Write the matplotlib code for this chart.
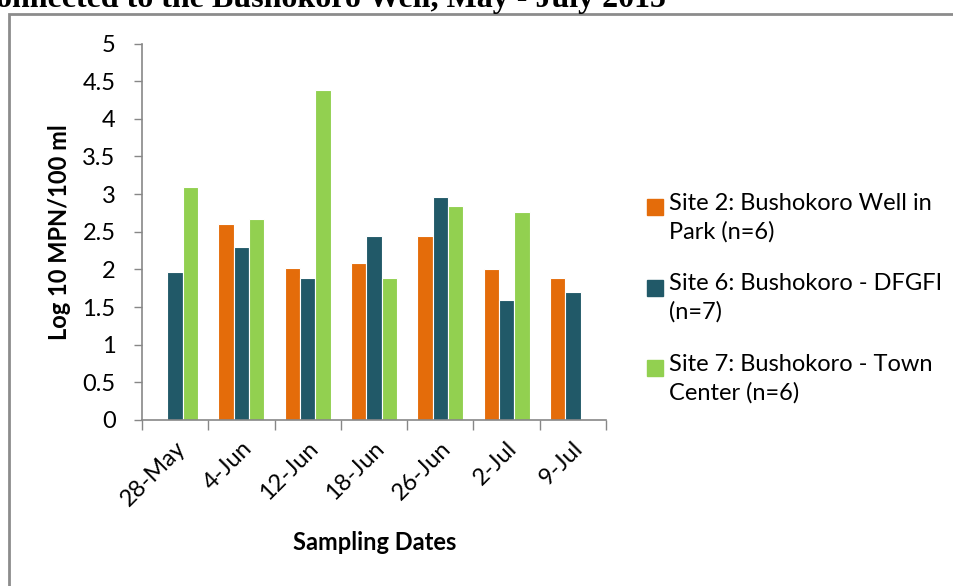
import numpy as np
import matplotlib
matplotlib.use("Agg")
import matplotlib.pyplot as plt
import matplotlib.transforms as mtransforms
from matplotlib.patches import Rectangle

DATES = ["28-May", "4-Jun", "12-Jun", "18-Jun", "26-Jun", "2-Jul", "9-Jul"]
SITE2 = [np.nan, 2.60, 2.02, 2.09, 2.44, 2.01, 1.89]
SITE6 = [1.96, 2.30, 1.89, 2.44, 2.96, 1.60, 1.70]
SITE7 = [3.10, 2.67, 4.38, 1.89, 2.84, 2.76, np.nan]
SERIES = [SITE2, SITE6, SITE7]
NAMES = ["Site 2: Bushokoro Well in\nPark (n=6)",
         "Site 6: Bushokoro - DFGFI\n(n=7)",
         "Site 7: Bushokoro - Town\nCenter (n=6)"]
COLORS = ["#E46C0A", "#215968", "#92D050"]
YTICKS = [0, 0.5, 1, 1.5, 2, 2.5, 3, 3.5, 4, 4.5, 5]

FONT = "Lato"
FS = 17
W, H = 954, 586

fig = plt.figure(figsize=(W / 100, H / 100), dpi=100)
ax = fig.add_axes([142 / W, 1 - 420 / H, (606 - 142) / W, (420 - 43.5) / H])

# grouped bars
x = np.arange(len(DATES))
bw = 0.232
for k, (vals, col) in enumerate(zip(SERIES, COLORS)):
    ax.bar(x + (k - 1) * bw, vals, bw, color=col, edgecolor="white", linewidth=0.8)

ax.set_xlim(-0.5, len(DATES) - 0.5)
ax.set_ylim(0, 5)
ax.set_yticks(YTICKS)
ax.set_yticklabels([f"{t:g}" for t in YTICKS], fontsize=FS, family=FONT)
ax.tick_params(axis="y", length=6, width=1, color="#878787", pad=13)

# labels at centres, ticks at the category boundaries
ax.set_xticks(x)
ax.set_xticklabels(DATES, rotation=45, ha="right", va="center",
                   rotation_mode="anchor", fontsize=FS, family=FONT)
ax.tick_params(axis="x", which="major", length=0, pad=18)
shift = mtransforms.ScaledTranslation(7 / 100, 0, fig.dpi_scale_trans)
for lab in ax.get_xticklabels():
    lab.set_transform(lab.get_transform() + shift)
ax.set_xticks(np.arange(len(DATES) + 1) - 0.5, minor=True)
ax.tick_params(axis="x", which="minor", length=7, width=1, color="#878787")

for s in ["top", "right"]:
    ax.spines[s].set_visible(False)
for s in ["left", "bottom"]:
    ax.spines[s].set_color("#878787")
    ax.spines[s].set_linewidth(1.2)

ax.set_ylabel("Log 10 MPN/100 ml", fontsize=FS, fontweight="bold", family=FONT, labelpad=8)
fig.text(375 / W, 1 - 543 / H, "Sampling Dates", fontsize=FS, fontweight="bold",
         family=FONT, ha="center", va="center")

# legend, drawn by hand so the marker sits on the first line
for k, (name, col) in enumerate(zip(NAMES, COLORS)):
    ytop = 207 + k * 80.5
    fig.patches.append(Rectangle((647 / W, 1 - (ytop + 8) / H), 16 / W, 16 / H,
                                 transform=fig.transFigure, color=col))
    fig.text(669 / W, 1 - (ytop - 14) / H, name, fontsize=FS, family=FONT,
             va="top", ha="left", linespacing=1.4)

# outer frame of the chart object
fig.patches.append(Rectangle((9 / W, -0.05), 1.1, 1 - 14 / H + 0.05, transform=fig.transFigure,
                             fill=False, edgecolor="#8c8c8c", linewidth=2))

# cropped title above the frame
fig.text(-4 / W, 1 - 7 / H, "Connected to the Bushokoro Well, May - July 2015"[1:],
         family="Liberation Serif", fontweight="bold", fontsize=23, ha="left", va="baseline")

fig.savefig("out.png", dpi=100)
